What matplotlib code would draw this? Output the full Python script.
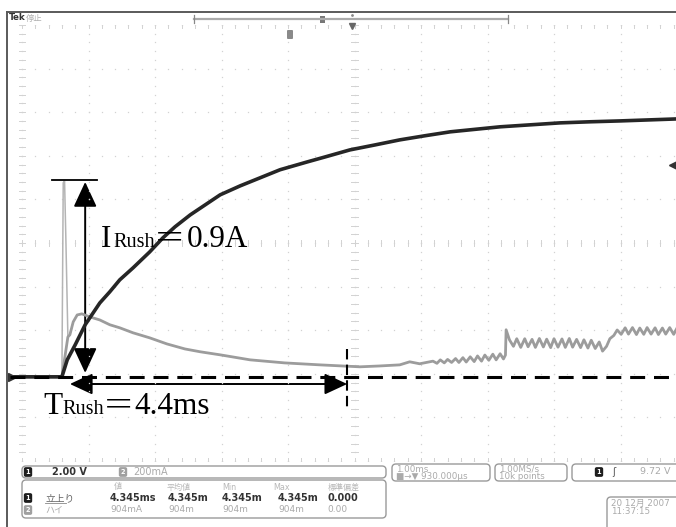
import matplotlib
matplotlib.use('Agg')
import matplotlib.pyplot as plt
from matplotlib.patches import FancyBboxPatch, FancyArrowPatch

# ---------------- scope settings ----------------
V_PER_DIV = 2.0      # channel 1
A_PER_DIV = 0.2      # channel 2 (200 mA/div)
GND_DIV = -3.07      # ground level of both channels (divisions from centre)
TRIG_LEVEL = 9.72    # V

# ---------------- data (time in ms from left graticule edge) ----------------
t_v = [-0.18, 0.60, 0.68, 0.80, 0.95, 1.17, 1.32, 1.47, 1.67, 1.92, 2.12, 2.30, 2.53,
       2.98, 3.28, 3.58, 3.88, 4.29, 4.56, 4.93, 5.31, 5.68, 6.06, 6.44, 7.19, 7.64,
       8.09, 8.54, 8.99, 9.83]
v1 = [0.0, 0.0, 0.78, 1.47, 2.39, 3.39, 3.90, 4.45, 5.00, 5.73, 6.38, 6.88, 7.43,
      8.35, 8.76, 9.13, 9.50, 9.86, 10.09, 10.41, 10.64, 10.87, 11.06, 11.24, 11.47, 11.56,
      11.65, 11.70, 11.74, 11.83]

spike_t = [0.60, 0.62, 0.64, 0.66, 0.69]
spike_i = [0.0, 0.890, 0.899, 0.628, 0.183]

t_i = [-0.18, 0.60, 0.69, 0.72, 0.77, 0.83, 0.90, 1.02, 1.17, 1.32, 1.47, 1.67,
       1.92, 2.18, 2.45, 2.68, 2.98, 3.43, 3.95, 4.48, 5.08, 5.38, 5.68, 5.83,
       5.98,
       6.18, 6.24, 6.29, 6.35, 6.40, 6.46, 6.52, 6.57, 6.63, 6.68, 6.74, 6.80,
       6.85, 6.91, 6.96, 7.02, 7.08, 7.13, 7.19, 7.24, 7.27, 7.28,
       7.33, 7.39, 7.44, 7.50, 7.56, 7.61, 7.67, 7.72, 7.78, 7.84, 7.89, 7.95,
       8.00, 8.06, 8.12, 8.17, 8.23, 8.28, 8.34, 8.40, 8.45, 8.51, 8.56, 8.62,
       8.68, 8.73, 8.79, 8.84, 8.90, 8.95,
       9.01, 9.07, 9.12, 9.18, 9.24, 9.29, 9.35, 9.40, 9.46, 9.52, 9.57, 9.63,
       9.68, 9.74, 9.80, 9.85]
i2 = [0.0, 0.0, 0.183, 0.193, 0.252, 0.284, 0.289, 0.275, 0.261, 0.239, 0.225, 0.202,
      0.179, 0.151, 0.128, 0.115, 0.101, 0.078, 0.064, 0.055, 0.046, 0.050, 0.055, 0.069,
      0.060,
      0.072, 0.062, 0.078, 0.064, 0.080, 0.066, 0.084, 0.066, 0.088, 0.068, 0.092, 0.070,
      0.096, 0.072, 0.100, 0.076, 0.104, 0.078, 0.106, 0.082, 0.100, 0.216,
      0.170, 0.140, 0.175, 0.135, 0.175, 0.138, 0.172, 0.135, 0.176, 0.137, 0.173, 0.134,
      0.175, 0.136, 0.174, 0.135, 0.176, 0.136, 0.172, 0.134, 0.170, 0.132, 0.168, 0.130,
      0.160, 0.118, 0.140, 0.175, 0.190, 0.215,
      0.195, 0.225, 0.196, 0.226, 0.194, 0.224, 0.195, 0.226, 0.196, 0.225, 0.194, 0.224,
      0.196, 0.226, 0.195, 0.224]

I_RUSH = 0.904          # A (peak)
T_ARROW = 0.95          # ms, position of vertical arrow
T_RUSH_START = 0.72     # ms
T_RUSH_END = 4.89       # ms
Y_TRUSH_DIV = -3.234    # height of the horizontal arrow

# ---------------- figure ----------------
W, H = 676, 527
fig = plt.figure(figsize=(W / 100, H / 100), dpi=100)
fig.patch.set_facecolor('white')

# main graticule axes (x: ms, y: divisions)
GX0, GDX = 22.0, 66.5        # pixel of left graticule edge, pixels per div
GY0, GY1 = 25.0, 461.0       # top / bottom of graticule in pixels
ax_left_px = 8.0
ax = fig.add_axes([ax_left_px / W, 1 - GY1 / H, (W - ax_left_px) / W, (GY1 - GY0) / H])
ax.set_xlim((ax_left_px - GX0) / GDX, (W - GX0) / GDX)
ax.set_ylim(-5, 5)
ax.axis('off')

gcol = '#d2d2d2'
# dotted graticule
for k in range(0, 11):
    ys = [j * 0.2 - 5 for j in range(51)]
    ax.plot([k] * len(ys), ys, ls='none', marker='s', ms=0.9, color=gcol, mew=0)
for j in range(-5, 6):
    xs = [k * 0.2 for k in range(51)]
    ax.plot(xs, [j] * len(xs), ls='none', marker='s', ms=0.9, color=gcol, mew=0)
# tick marks on centre cross and edges
for j in range(51):
    y = j * 0.2 - 5
    for xc in (5, 0):
        ax.plot([xc - 0.05, xc + 0.05], [y, y], color=gcol, lw=0.7)
for k in range(51):
    x = k * 0.2
    for yc in (0, 5, -5):
        ax.plot([x, x], [yc - 0.07, yc + 0.07], color=gcol, lw=0.7)

def idiv(vals):
    return [GND_DIV + v / A_PER_DIV for v in vals]

def vdiv(vals):
    return [GND_DIV + v / V_PER_DIV for v in vals]

# traces
ax.plot(spike_t, idiv(spike_i), color='#b4b4b4', lw=1.1, solid_joinstyle='miter')
ax.plot(t_i, idiv(i2), color='#9c9c9c', lw=2.0)
ax.plot(t_v, vdiv(v1), color='#262626', lw=2.6)

# markers
ax.plot([-0.15], [GND_DIV], marker='>', ms=6, color='#333333')
ax.plot([(W - GX0) / GDX - 0.04], [GND_DIV + TRIG_LEVEL / V_PER_DIV], marker='<',
        ms=6, color='#333333', clip_on=False)

# annotations
ax.plot([(ax_left_px + 2 - GX0) / GDX, (W - GX0) / GDX], [GND_DIV, GND_DIV],
        color='black', lw=2.2, linestyle=(0, (4.9, 2.9)))
ax.plot([T_RUSH_END, T_RUSH_END], [GND_DIV + 0.65, GND_DIV - 0.75], color='black',
        lw=1.5, linestyle=(0, (5, 2.5)))
top = GND_DIV + I_RUSH / A_PER_DIV
ax.plot([T_ARROW - 0.5, T_ARROW + 0.18], [top, top], color='black', lw=1.3)
ax.add_patch(FancyArrowPatch((T_ARROW, GND_DIV + 0.09), (T_ARROW, top - 0.05),
                             arrowstyle='<|-|>,head_length=1.55,head_width=0.72',
                             mutation_scale=10, color='black', lw=1.4,
                             shrinkA=0, shrinkB=0))
ax.add_patch(FancyArrowPatch((T_RUSH_START, Y_TRUSH_DIV), (T_RUSH_END, Y_TRUSH_DIV),
                             arrowstyle='<|-|>,head_length=1.4,head_width=0.65',
                             mutation_scale=10, color='black', lw=1.4,
                             shrinkA=0, shrinkB=0))

# ---------------- overlay in pixel coordinates ----------------
ui = fig.add_axes([0, 0, 1, 1], facecolor='none')
ui.set_xlim(0, W)
ui.set_ylim(H, 0)
ui.axis('off')

serif = ['Liberation Serif', 'Noto Sans CJK JP']
big, small = 22.5, 14.5
cjk = ['Noto Sans CJK JP']
ui.text(101, 247, 'I', fontsize=big, family=serif, va='baseline')
ui.text(113, 247, 'Rush', fontsize=small, family=serif, va='baseline')
ui.text(154, 247, '＝', fontsize=big, family=cjk, va='baseline', fontweight='light')
ui.text(187, 247, '0.9A', fontsize=big, family=serif, va='baseline')
ui.text(43, 414, 'T', fontsize=big, family=serif, va='baseline')
ui.text(62, 414, 'Rush', fontsize=small, family=serif, va='baseline')
ui.text(103, 414, '＝', fontsize=big, family=cjk, va='baseline', fontweight='light')
ui.text(134, 414, '4.4ms', fontsize=big, family=serif, va='baseline')

# frame
fcol = '#5a5a5a'
ui.plot([7, W], [11.5, 11.5], color=fcol, lw=1.4)
ui.plot([7, 7], [11.5, H], color=fcol, lw=1.4)

# top status bar
sans = ['DejaVu Sans', 'Noto Sans CJK JP']
ui.text(8.5, 18, 'Tek', fontsize=6.3, fontweight='bold', color='#333333', va='center',
        family=sans)
ui.text(26, 18, '停止', fontsize=6, color='#b0b0b0', va='center', family=cjk)
ui.plot([194, 508], [19, 19], color='#aaaaaa', lw=1.6)
ui.plot([194, 194], [15, 23], color='#888888', lw=0.9)
ui.plot([508, 508], [15, 23], color='#888888', lw=0.9)
ui.add_patch(FancyBboxPatch((320, 15.5), 5, 7, boxstyle='square,pad=0', fc='#777777',
                            ec='none'))
ui.plot([352], [15], marker='.', ms=2, color='#888888')
ui.plot([352], [26], marker='v', ms=4, color='#666666')
ui.add_patch(FancyBboxPatch((287, 30), 6, 9, boxstyle='round,pad=0,rounding_size=1',
                            fc='#8a8a8a', ec='none'))

# bottom panels
bcol = '#9a9a9a'

def box(x0, y0, x1, y1):
    ui.add_patch(FancyBboxPatch((x0, y0), x1 - x0, y1 - y0,
                                boxstyle='round,pad=0,rounding_size=4',
                                fc='white', ec=bcol, lw=1.0))

def badge(x, y, s, dark=True):
    ui.text(x, y, s, fontsize=4.8, color='white', ha='center', va='center',
            fontweight='bold',
            bbox=dict(boxstyle='round,pad=0.28', fc='#1e1e1e' if dark else '#a0a0a0',
                      ec='none'))

box(22, 466, 386, 478)
badge(28, 472, '1')
ui.text(52, 472, '2.00 V', fontsize=7, color='#333333', va='center',
        fontweight='bold', family=sans)
badge(123, 472, '2', dark=False)
ui.text(133, 472, '200mA', fontsize=7, color='#aaaaaa', va='center', family=sans)

box(22, 480, 386, 518)
hc = '#b8b8b8'
for x, s in [(114, '値'), (167, '平均値'), (222, 'Min'), (273, 'Max'), (328, '標準偏差')]:
    ui.text(x, 487, s, fontsize=5.8, color=hc, va='center', family=sans)
badge(28, 498, '1')
ui.text(45, 498, '立上り', fontsize=7, color='#666666', va='center', family=sans)
ui.plot([45, 66], [503, 503], color='#888888', lw=0.6)
for x, s in [(110, '4.345ms'), (168, '4.345m'), (222, '4.345m'), (278, '4.345m'),
             (327, '0.000')]:
    ui.text(x, 498, s, fontsize=7, color='#333333', va='center', fontweight='bold',
            family=sans)
badge(28, 510, '2', dark=False)
ui.text(45, 510, 'ハイ', fontsize=6.5, color='#aaaaaa', va='center', family=sans)
for x, s in [(110, '904mA'), (168, '904m'), (222, '904m'), (278, '904m'), (327, '0.00')]:
    ui.text(x, 510, s, fontsize=6.5, color='#aaaaaa', va='center', family=sans)

box(392, 464, 490, 481)
ui.text(396, 469, '1.00ms', fontsize=6.3, color='#aaaaaa', va='center', family=sans)
ui.text(396, 476.5, '■→▼ 930.000µs', fontsize=6.3, color='#aaaaaa', va='center',
        family=sans)
box(495, 464, 567, 481)
ui.text(499, 469, '1.00MS/s', fontsize=6.3, color='#aaaaaa', va='center', family=sans)
ui.text(499, 476.5, '10k points', fontsize=6.3, color='#aaaaaa', va='center',
        family=sans)
box(572, 464, 690, 481)
badge(599, 472, '1')
ui.text(612, 472, 'ʃ', fontsize=7, color='#555555', va='center', family=sans)
ui.text(640, 472, '9.72 V', fontsize=6.8, color='#aaaaaa', va='center', family=sans)
box(607, 497, 690, 540)
ui.text(611, 503, '20 12月 2007', fontsize=6.3, color='#aaaaaa', va='center',
        family=sans)
ui.text(611, 512, '11:37:15', fontsize=6.3, color='#aaaaaa', va='center', family=sans)

fig.savefig('out.png', dpi=100, facecolor='white')
